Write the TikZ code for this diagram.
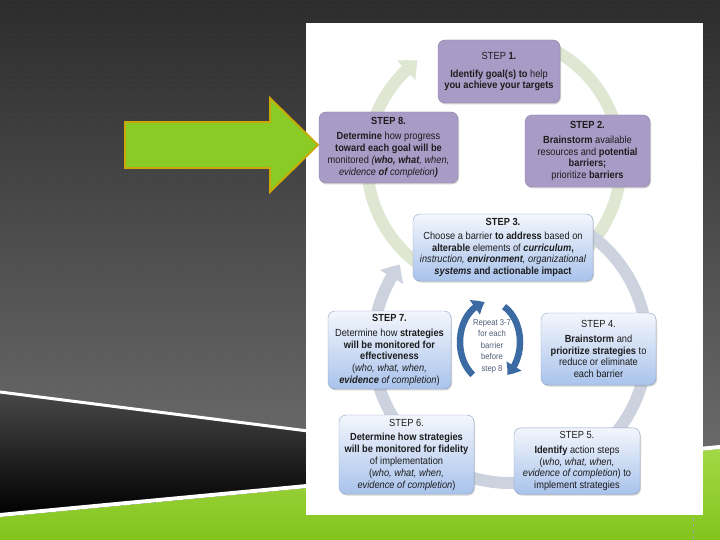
\documentclass[tikz,border=0pt]{standalone}
\usepackage{fontspec}
\setmainfont{Liberation Sans}[FakeStretch=0.9]
\usetikzlibrary{arrows.meta,bending,shadows,patterns.meta,calc}
\definecolor{bgdark}{HTML}{2C2C2C}
\definecolor{bglight}{HTML}{6C6C6C}
\definecolor{leafgreen}{HTML}{82C41C}
\definecolor{leaflight}{HTML}{A2D846}
\definecolor{arrowgreen}{HTML}{8BCB25}
\definecolor{arrowgold}{HTML}{CBA806}
\definecolor{lilac}{HTML}{A89CC6}
\definecolor{lilacedge}{HTML}{8A7EA8}
\definecolor{icetop}{HTML}{F3F6FC}
\definecolor{icebot}{HTML}{A9C3EC}
\definecolor{iceedge}{HTML}{8CA3C8}
\definecolor{ringgreen}{HTML}{DFE6D2}
\definecolor{ringblue}{HTML}{CDD3DE}
\definecolor{repeatblue}{HTML}{3C6BA3}
\definecolor{repeattext}{HTML}{4E5C78}
\definecolor{inktext}{HTML}{1C1C1C}

\begin{document}
\begin{tikzpicture}[x=1pt,y=-1pt,purplestep/.style={draw=lilacedge,fill=lilac,rounded corners=7pt,align=center,text=inktext,font=\fontsize{10.3}{11.8}\selectfont,drop shadow={shadow xshift=1pt,shadow yshift=-1.5pt,opacity=.35}},bluestep/.style={draw=iceedge,top color=icetop,bottom color=icebot,rounded corners=7pt,align=center,text=inktext,font=\fontsize{10.3}{11.8}\selectfont,drop shadow={shadow xshift=1pt,shadow yshift=-1.5pt,opacity=.35}},upperring/.style={draw=ringgreen,line width=12pt},lowerring/.style={draw=ringblue,line width=12pt},ringtip/.style={-{Triangle[width=26pt,length=15pt,bend]}},repeatarrow/.style={draw=repeatblue,line width=6.5pt,-{Triangle[width=17pt,length=11pt,bend]}}]
  \useasboundingbox (0,0) rectangle (720,540);
  \fill[bgdark] (0,0) rectangle (720,540);
  \shade[top color=bgdark,bottom color=bglight] (0,0) rectangle (720,470);
  \fill[pattern={Dots[distance=5pt,radius=.45pt]},pattern color=white,fill opacity=.17] (0,0) rectangle (720,470);
  \shade[top color=black!72,bottom color=black] (0,392) -- (561,463) -- (0,516) -- cycle;
  \shade[top color=leaflight,bottom color=leafgreen] (0,517) -- (720,449) -- (720,540) -- (0,540) -- cycle;
  \draw[white,line width=3pt] (0,392) -- (561,463);
  \draw[white,line width=4pt] (0,515) -- (720,447);
  \fill[white] (306,23) rectangle (703,515);
  \draw[gray!70,dashed,line width=.6pt] (693,518) -- (693,540);
  \draw[arrowgold,fill=arrowgreen,line width=1.8pt] (125,122) -- (270,122) -- (270,98) -- (318,145) -- (270,192) -- (270,168) -- (125,168) -- cycle;
  \coordinate (upperhub) at (494,162);
  \coordinate (lowerhub) at (510,346);
  \coordinate (repeathub) at (490,342);
  \draw[upperring,ringtip] ($(upperhub)+(160:127pt)$) arc[start angle=160,end angle=127,radius=127pt];
  \draw[upperring] ($(upperhub)+(62:127pt)$) arc[start angle=62,end angle=18,radius=127pt];
  \draw[upperring] ($(upperhub)+(-8:127pt)$) arc[start angle=-8,end angle=-42,radius=127pt];
  \draw[upperring] ($(upperhub)+(-126:127pt)$) arc[start angle=-126,end angle=-173,radius=127pt];
  \draw[lowerring] ($(lowerhub)+(58:137pt)$) arc[start angle=58,end angle=10,radius=137pt];
  \draw[lowerring] ($(lowerhub)+(-14:137pt)$) arc[start angle=-14,end angle=-42,radius=137pt];
  \draw[lowerring] ($(lowerhub)+(-85:137pt)$) arc[start angle=-85,end angle=-108,radius=137pt];
  \draw[lowerring] ($(lowerhub)+(-145:137pt)$) arc[start angle=-145,end angle=-166,radius=137pt];
  \draw[lowerring,ringtip] ($(lowerhub)+(168:137pt)$) arc[start angle=168,end angle=143.5,radius=137pt];
  \node[purplestep,minimum width=122pt,minimum height=63pt] (goals) at (499,71.5) {STEP \textbf{1.}\\[6pt]\textbf{Identify goal(s) to} help\\\textbf{you achieve your targets}};
  \node[purplestep,minimum width=139pt,minimum height=71pt] (progress) at (388.5,147.5) {\textbf{STEP 8.}\\[3pt]\textbf{Determine} how progress\\\textbf{toward each goal will be}\\monitored \textit{(\textbf{who, what}, when,}\\\textit{evidence \textbf{of} completion\textbf{)}}};
  \node[purplestep,minimum width=125pt,minimum height=72pt] (barriers) at (587.5,151) {\textbf{STEP 2.}\\[3pt]\textbf{Brainstorm} available\\resources and \textbf{potential}\\\textbf{barriers;}\\prioritize \textbf{barriers}};
  \node[bluestep,minimum width=180pt,minimum height=67pt] (choose) at (503,247.5) {\textbf{STEP 3.}\\[2pt]Choose a barrier \textbf{to address} based on\\\textbf{alterable} elements of \textbf{\textit{curriculum},}\\\textit{instruction, \textbf{environment}, organizational}\\\textbf{\textit{systems} and actionable impact}};
  \node[bluestep,minimum width=123pt,minimum height=74pt] (effect) at (389.5,350) {\textbf{STEP 7.}\\[3pt]Determine how \textbf{strategies}\\\textbf{will be monitored for}\\\textbf{effectiveness}\\(\textit{who, what, when,}\\\textit{\textbf{evidence} of completion})};
  \node[bluestep,minimum width=115pt,minimum height=72pt] (strategies) at (598.5,349) {STEP 4.\\[3pt]\textbf{Brainstorm} and\\\textbf{prioritize strategies} to\\reduce or eliminate\\each barrier};
  \node[bluestep,minimum width=135pt,minimum height=79pt] (fidelity) at (406.5,454.5) {STEP 6.\\[3pt]\textbf{Determine how strategies}\\\textbf{will be monitored for fidelity}\\of implementation\\(\textit{who, what, when,}\\\textit{evidence of completion})};
  \node[bluestep,minimum width=126pt,minimum height=64pt] (actions) at (577,461) {STEP 5.\\[3pt]\textbf{Identify} action steps\\(\textit{who, what, when,}\\\textit{evidence of completion}) to\\implement strategies};
  \draw[repeatarrow] ($(repeathub)+(235:30pt and 40pt)$) arc[start angle=235,end angle=100,x radius=30pt,y radius=40pt];
  \draw[repeatarrow] ($(repeathub)+(62:30pt and 40pt)$) arc[start angle=62,end angle=-55,x radius=30pt,y radius=40pt];
  \node[text=repeattext,font=\fontsize{8.5}{11.5}\selectfont,align=center] (repeat) at (492,346) {Repeat 3-7\\for each\\barrier\\before\\step 8};
\end{tikzpicture}
\end{document}
